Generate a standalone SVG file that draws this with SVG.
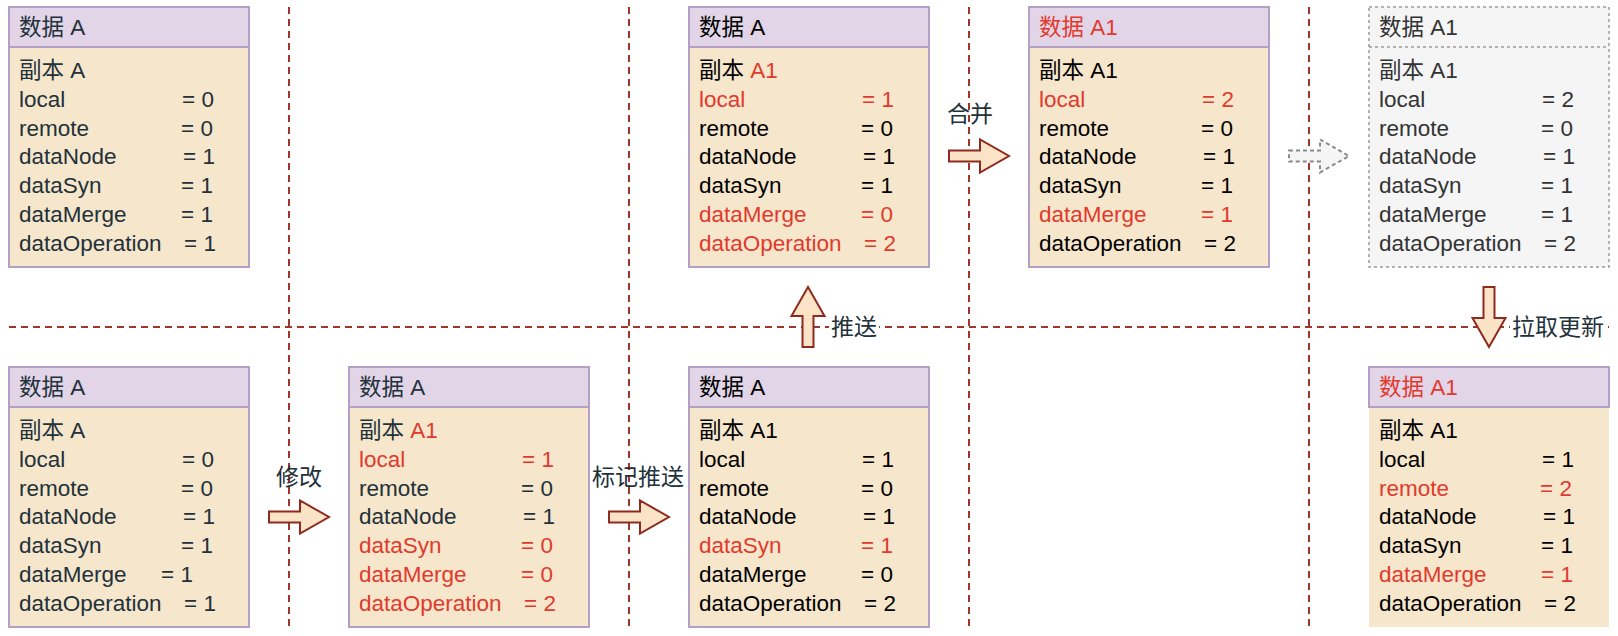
<svg xmlns="http://www.w3.org/2000/svg" width="1618" height="636" viewBox="0 0 1618 636">
<style>
text{font-family:"Liberation Sans","Noto Sans CJK SC",sans-serif;font-size:22.5px}
.hd{fill:#e1d5e7}
.bd{fill:#f6e6cb}
.ol{fill:none;stroke:#b4a0c4;stroke-width:2}
.ghd{fill:#f5f5f5}
.gol{fill:none;stroke:#9a9a9a;stroke-width:1.5;stroke-dasharray:3 3}
.s{fill:#22313a}
.k{fill:#000}
.g{fill:#333}
.r{fill:#e03a2e}
.sep{stroke:#a0362b;stroke-width:2;stroke-dasharray:7 5;fill:none}
.arr{fill:#fae3c7;stroke:#8e2a1e;stroke-width:2}
.garr{fill:#f5f5f5;stroke:#8a8a8a;stroke-width:2;stroke-dasharray:4 3}
.lbl{fill:#22313a;font-size:23px}
</style>
<defs>
<path id="ar" d="M0,-5.5 H31 V-16.5 L60,0 L31,16.5 V5.5 H0 Z"/>
</defs>
<rect width="1618" height="636" fill="#fff"/>
<g id="separators">
<line class="sep" x1="289" y1="7" x2="289" y2="627"/>
<line class="sep" x1="629" y1="7" x2="629" y2="627"/>
<line class="sep" x1="969" y1="7" x2="969" y2="627"/>
<line class="sep" x1="1309" y1="7" x2="1309" y2="627"/>
<line class="sep" x1="9" y1="327" x2="1609" y2="327"/>
</g>
<g id="n1">
<rect class="bd" x="9" y="47" width="240" height="220"/>
<rect class="hd" x="9" y="7" width="240" height="40"/>
<rect class="ol" x="9" y="7" width="240" height="260"/>
<line class="ol" x1="9" y1="47" x2="249" y2="47"/>
<text class="s" x="19" y="35">数据 A</text>
<text class="s" x="19" y="78">副本 A</text>
<text class="s" x="19" y="106.8">local<tspan x="182">= 0</tspan></text>
<text class="s" x="19" y="135.6">remote<tspan x="181">= 0</tspan></text>
<text class="s" x="19" y="164.4">dataNode<tspan x="183">= 1</tspan></text>
<text class="s" x="19" y="193.2">dataSyn<tspan x="181">= 1</tspan></text>
<text class="s" x="19" y="222">dataMerge<tspan x="181">= 1</tspan></text>
<text class="s" x="19" y="250.8">dataOperation<tspan x="184">= 1</tspan></text>
</g>
<g id="n2">
<rect class="bd" x="689" y="47" width="240" height="220"/>
<rect class="hd" x="689" y="7" width="240" height="40"/>
<rect class="ol" x="689" y="7" width="240" height="260"/>
<line class="ol" x1="689" y1="47" x2="929" y2="47"/>
<text class="k" x="699" y="35">数据 A</text>
<text class="k" x="699" y="78">副本 <tspan class="r">A1</tspan></text>
<text class="r" x="699" y="106.8">local<tspan x="862">= 1</tspan></text>
<text class="k" x="699" y="135.6">remote<tspan x="861">= 0</tspan></text>
<text class="k" x="699" y="164.4">dataNode<tspan x="863">= 1</tspan></text>
<text class="k" x="699" y="193.2">dataSyn<tspan x="861">= 1</tspan></text>
<text class="r" x="699" y="222">dataMerge<tspan x="861">= 0</tspan></text>
<text class="r" x="699" y="250.8">dataOperation<tspan x="864">= 2</tspan></text>
</g>
<g id="n3">
<rect class="bd" x="1029" y="47" width="240" height="220"/>
<rect class="hd" x="1029" y="7" width="240" height="40"/>
<rect class="ol" x="1029" y="7" width="240" height="260"/>
<line class="ol" x1="1029" y1="47" x2="1269" y2="47"/>
<text class="r" x="1039" y="35">数据 A1</text>
<text class="k" x="1039" y="78">副本 A1</text>
<text class="r" x="1039" y="106.8">local<tspan x="1202">= 2</tspan></text>
<text class="k" x="1039" y="135.6">remote<tspan x="1201">= 0</tspan></text>
<text class="k" x="1039" y="164.4">dataNode<tspan x="1203">= 1</tspan></text>
<text class="k" x="1039" y="193.2">dataSyn<tspan x="1201">= 1</tspan></text>
<text class="r" x="1039" y="222">dataMerge<tspan x="1201">= 1</tspan></text>
<text class="k" x="1039" y="250.8">dataOperation<tspan x="1204">= 2</tspan></text>
</g>
<g id="n4">
<rect class="ghd" x="1369" y="7" width="240" height="260"/>
<rect class="gol" x="1369" y="7" width="240" height="260"/>
<line class="gol" x1="1369" y1="47" x2="1609" y2="47"/>
<text class="g" x="1379" y="35">数据 A1</text>
<text class="g" x="1379" y="78">副本 A1</text>
<text class="g" x="1379" y="106.8">local<tspan x="1542">= 2</tspan></text>
<text class="g" x="1379" y="135.6">remote<tspan x="1541">= 0</tspan></text>
<text class="g" x="1379" y="164.4">dataNode<tspan x="1543">= 1</tspan></text>
<text class="g" x="1379" y="193.2">dataSyn<tspan x="1541">= 1</tspan></text>
<text class="g" x="1379" y="222">dataMerge<tspan x="1541">= 1</tspan></text>
<text class="g" x="1379" y="250.8">dataOperation<tspan x="1544">= 2</tspan></text>
</g>
<g id="n5">
<rect class="bd" x="9" y="407" width="240" height="220"/>
<rect class="hd" x="9" y="367" width="240" height="40"/>
<rect class="ol" x="9" y="367" width="240" height="260"/>
<line class="ol" x1="9" y1="407" x2="249" y2="407"/>
<text class="s" x="19" y="395">数据 A</text>
<text class="s" x="19" y="438">副本 A</text>
<text class="s" x="19" y="466.8">local<tspan x="182">= 0</tspan></text>
<text class="s" x="19" y="495.6">remote<tspan x="181">= 0</tspan></text>
<text class="s" x="19" y="524.4">dataNode<tspan x="183">= 1</tspan></text>
<text class="s" x="19" y="553.2">dataSyn<tspan x="181">= 1</tspan></text>
<text class="s" x="19" y="582">dataMerge<tspan x="161">= 1</tspan></text>
<text class="s" x="19" y="610.8">dataOperation<tspan x="184">= 1</tspan></text>
</g>
<g id="n6">
<rect class="bd" x="349" y="407" width="240" height="220"/>
<rect class="hd" x="349" y="367" width="240" height="40"/>
<rect class="ol" x="349" y="367" width="240" height="260"/>
<line class="ol" x1="349" y1="407" x2="589" y2="407"/>
<text class="s" x="359" y="395">数据 A</text>
<text class="s" x="359" y="438">副本 <tspan class="r">A1</tspan></text>
<text class="r" x="359" y="466.8">local<tspan x="522">= 1</tspan></text>
<text class="s" x="359" y="495.6">remote<tspan x="521">= 0</tspan></text>
<text class="s" x="359" y="524.4">dataNode<tspan x="523">= 1</tspan></text>
<text class="r" x="359" y="553.2">dataSyn<tspan x="521">= 0</tspan></text>
<text class="r" x="359" y="582">dataMerge<tspan x="521">= 0</tspan></text>
<text class="r" x="359" y="610.8">dataOperation<tspan x="524">= 2</tspan></text>
</g>
<g id="n7">
<rect class="bd" x="689" y="407" width="240" height="220"/>
<rect class="hd" x="689" y="367" width="240" height="40"/>
<rect class="ol" x="689" y="367" width="240" height="260"/>
<line class="ol" x1="689" y1="407" x2="929" y2="407"/>
<text class="k" x="699" y="395">数据 A</text>
<text class="k" x="699" y="438">副本 A1</text>
<text class="k" x="699" y="466.8">local<tspan x="862">= 1</tspan></text>
<text class="k" x="699" y="495.6">remote<tspan x="861">= 0</tspan></text>
<text class="k" x="699" y="524.4">dataNode<tspan x="863">= 1</tspan></text>
<text class="r" x="699" y="553.2">dataSyn<tspan x="861">= 1</tspan></text>
<text class="k" x="699" y="582">dataMerge<tspan x="861">= 0</tspan></text>
<text class="k" x="699" y="610.8">dataOperation<tspan x="864">= 2</tspan></text>
</g>
<g id="n8">
<rect class="bd" x="1369" y="407" width="240" height="220"/>
<rect class="hd" x="1369" y="367" width="240" height="40"/>
<rect class="ol" x="1369" y="367" width="240" height="40"/>
<text class="r" x="1379" y="395">数据 A1</text>
<text class="k" x="1379" y="438">副本 A1</text>
<text class="k" x="1379" y="466.8">local<tspan x="1542">= 1</tspan></text>
<text class="r" x="1379" y="495.6">remote<tspan x="1540">= 2</tspan></text>
<text class="k" x="1379" y="524.4">dataNode<tspan x="1543">= 1</tspan></text>
<text class="k" x="1379" y="553.2">dataSyn<tspan x="1541">= 1</tspan></text>
<text class="r" x="1379" y="582">dataMerge<tspan x="1541">= 1</tspan></text>
<text class="k" x="1379" y="610.8">dataOperation<tspan x="1544">= 2</tspan></text>
</g>
<g id="connectors">
<use href="#ar" class="arr" transform="translate(269,517)"/>
<text class="lbl" x="276" y="485">修改</text>
<use href="#ar" class="arr" transform="translate(609,517)"/>
<text class="lbl" x="592" y="485">标记推送</text>
<use href="#ar" class="arr" transform="translate(808,347) rotate(-90)"/>
<rect x="829" y="312" width="50" height="30" fill="#fff"/>
<text class="lbl" x="831" y="335">推送</text>
<use href="#ar" class="arr" transform="translate(949,156)"/>
<text class="lbl" x="947" y="122">合并</text>
<use href="#ar" class="garr" transform="translate(1289,156)"/>
<use href="#ar" class="arr" transform="translate(1489,287) rotate(90)"/>
<rect x="1510" y="312" width="98" height="30" fill="#fff"/>
<text class="lbl" x="1512" y="335">拉取更新</text>
</g>
</svg>
